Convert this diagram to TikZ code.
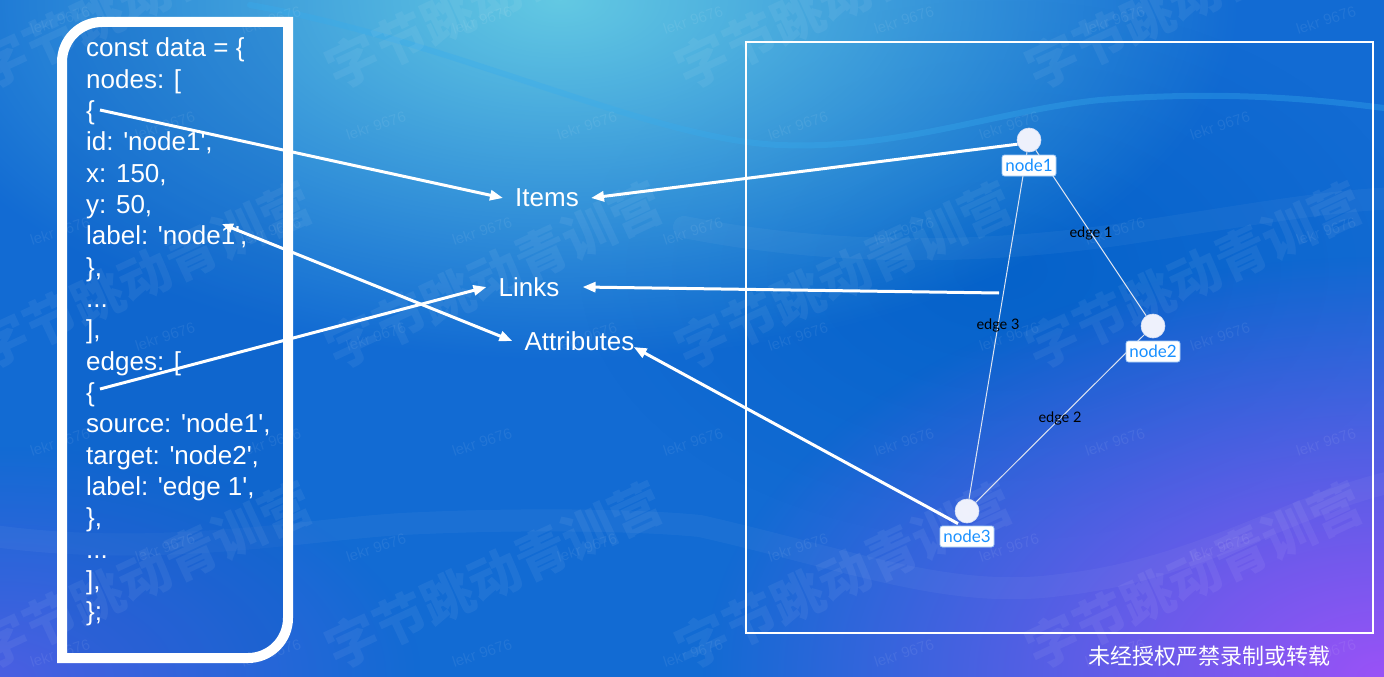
\documentclass[tikz,border=0pt]{standalone}
\usepackage{fontspec}
\setmainfont{Liberation Sans}
\newfontfamily\codefont{Liberation Sans}
\newfontfamily\graphfont{Lato}
\newfontfamily\cjk{Noto Sans CJK SC}
\usetikzlibrary{arrows.meta,fadings}

\definecolor{bgbase}{HTML}{126BD3}
\definecolor{glowcyan}{HTML}{63C9E3}
\definecolor{glowviolet}{HTML}{9A52F7}
\definecolor{glowleft}{HTML}{4A5FE2}
\definecolor{glowdeep}{HTML}{0562CA}
\definecolor{wavecol}{HTML}{36ACEE}
\definecolor{boxblue}{HTML}{0A5CC4}
\definecolor{nodefill}{HTML}{EEF1FC}
\definecolor{nodeline}{HTML}{D6E0F7}
\definecolor{labelline}{HTML}{A4CBF6}
\definecolor{labeltext}{HTML}{1890FF}
\definecolor{edgecol}{HTML}{DCE3F0}

\tikzfading[name=glowfade, inner color=transparent!0, outer color=transparent!100]

% soft elliptic glow: centre (#1,#2), radii #3 x #4, colour #5
\newcommand\bgglow[5]{%
  \fill[#5, path fading=glowfade]
    ({#1-#3},{#2-#4}) rectangle ({#1+#3},{#2+#4});}
% ellipsis line of the listing
\newcommand\codedots{...}

\begin{document}
\begin{tikzpicture}[x=1pt,y=-1pt,
  codeline/.style={anchor=base west, inner sep=0pt, text=white,
    font=\codefont\fontsize{26}{31}\selectfont},
  midlabel/.style={inner sep=0pt, inner xsep=12pt, text=white,
    font=\fontsize{26}{31}\selectfont},
  conn/.style={draw=white, line width=3pt, -{Triangle[length=13pt,width=10pt]}},
  conn2/.style={draw=white, line width=3pt,
    {Triangle[length=11pt,width=9pt]}-{Triangle[length=13pt,width=10pt]}},
  gnode/.style={circle, minimum size=24pt, inner sep=0pt, fill=nodefill,
    draw=nodeline, line width=0.6pt},
  glabel/.style={rectangle, rounded corners=2.5pt, minimum width=54pt,
    minimum height=21pt, inner sep=0pt, fill=white, draw=labelline,
    line width=0.8pt, text=labeltext, font=\graphfont\fontsize{17}{20}\selectfont},
  gedge/.style={draw=edgecol, line width=1pt},
  elabel/.style={inner sep=0pt, text=black, font=\graphfont\fontsize{14.5}{17}\selectfont},
  wave/.style={draw=wavecol, line width=6pt, opacity=0.35, line cap=round},
  softband/.style={draw=white, line width=22pt, opacity=0.04, line cap=round},
  wmbig/.style={anchor=south west, rotate=25, inner sep=0pt, text=white,
    opacity=0.06, font=\cjk\bfseries\fontsize{52}{52}\selectfont},
  wmsmall/.style={rotate=18, inner sep=0pt, text=white, opacity=0.07,
    font=\fontsize{15}{15}\selectfont},
]
\useasboundingbox (0,0) rectangle (1384,677);

% background
\begin{scope}
  \clip (0,0) rectangle (1384,677);
  \fill[bgbase] (0,0) rectangle (1384,677);
  \bgglow{1000}{270}{420}{270}{glowdeep}
  \bgglow{560}{0}{680}{360}{glowcyan}
  \bgglow{1384}{677}{680}{420}{glowviolet}
  \bgglow{0}{677}{420}{230}{glowleft}
  \draw[wave] (250,5) .. controls (450,40) and (650,140) .. (780,145)
    .. controls (900,150) and (1000,110) .. (1100,100)
    .. controls (1230,90) and (1320,100) .. (1384,108);
  \draw[softband] (-20,534) .. controls (150,560) and (300,530) .. (402,524)
    .. controls (520,518) and (640,520) .. (700,526)
    .. controls (850,560) and (950,600) .. (1060,585)
    .. controls (1200,570) and (1300,500) .. (1400,480);
  \draw[softband] (684,227) .. controls (800,250) and (950,260) .. (1130,233)
    .. controls (1250,215) and (1330,200) .. (1400,198);
\end{scope}

% code panel
\draw[line width=10pt, draw=white, fill=boxblue, fill opacity=0.3]
  (62,658) -- (62,62) arc (180:270:40) -- (288,22) -- (288,618) arc (0:90:40) -- cycle;

\foreach \t [count=\i from 0] in {{const data = \{},{nodes: [},{\{},{id: 'node1',},
  {x: 150,},{y: 50,},{label: 'node1',},{\},},{\codedots},{],},{edges: [},{\{},
  {source: 'node1',},{target: 'node2',},{label: 'edge 1',},{\},},{\codedots},{],},{\};}}
  \node[codeline] (code\i) at (86,{57+31.33*\i}) {\t};

% middle labels
\node[midlabel] (items) at (547,198) {Items};
\node[midlabel] (links) at (529,287) {Links};
\node[midlabel] (attr) at (579.5,341) {Attributes};

% graph view
\draw[white, line width=1.1pt] (746,42) rectangle (1373,633);
\node[gnode] (n1) at (1029,140) {};
\node[gnode] (n2) at (1153,326) {};
\node[gnode] (n3) at (967,511) {};
\draw[gedge] (n1) -- node[elabel] (e1) {edge 1} (n2);
\draw[gedge] (n2) -- node[elabel] (e2) {edge 2} (n3);
\draw[gedge] (n1) -- node[elabel] (e3) {edge 3} (n3);
\node[glabel] (n1l) at (1029,165.5) {node1};
\node[glabel] (n2l) at (1153,351.5) {node2};
\node[glabel] (n3l) at (967,536.5) {node3};

% connectors
\coordinate (fromNodes) at (100,110);
\coordinate (fromLabel) at (222,224);
\coordinate (fromEdges) at (100,389);
\coordinate (fromGraph) at (999,293);
\draw[conn] (fromNodes) -- (items.west);
\draw[conn] (n1.200) -- (items.east);
\draw[conn2] (fromLabel) -- (attr.west);
\draw[conn] (fromEdges) -- (links.west);
\draw[conn] (fromGraph) -- ([xshift=11pt]links.east);
\draw[conn] ([xshift=-9pt,yshift=2pt]n3l.north) -- ([xshift=-13pt,yshift=-6pt]attr.east);

% footer
\node[text=white, inner sep=0pt, font=\cjk\fontsize{22}{22}\selectfont] (footer)
  at (1209,656) {未经授权严禁录制或转载};

% watermarks
\foreach \x [count=\a] in {-10,340,690,1040}
  \foreach \y [count=\b] in {95,375,675}
    \node[wmbig] (wmb-\a-\b) at (\x,\y) {字节跳动青训营};
\foreach \k in {0,...,6}
  \foreach \j in {0,...,6}{
    \pgfmathsetmacro\wx{(mod(\k,2)==0 ? 60 : 165) + 211*\j}
    \pgfmathsetmacro\wy{20 + 105.5*\k}
    \node[wmsmall] (wms-\k-\j) at (\wx,\wy) {lekr 9676};
  }
\end{tikzpicture}
\end{document}
